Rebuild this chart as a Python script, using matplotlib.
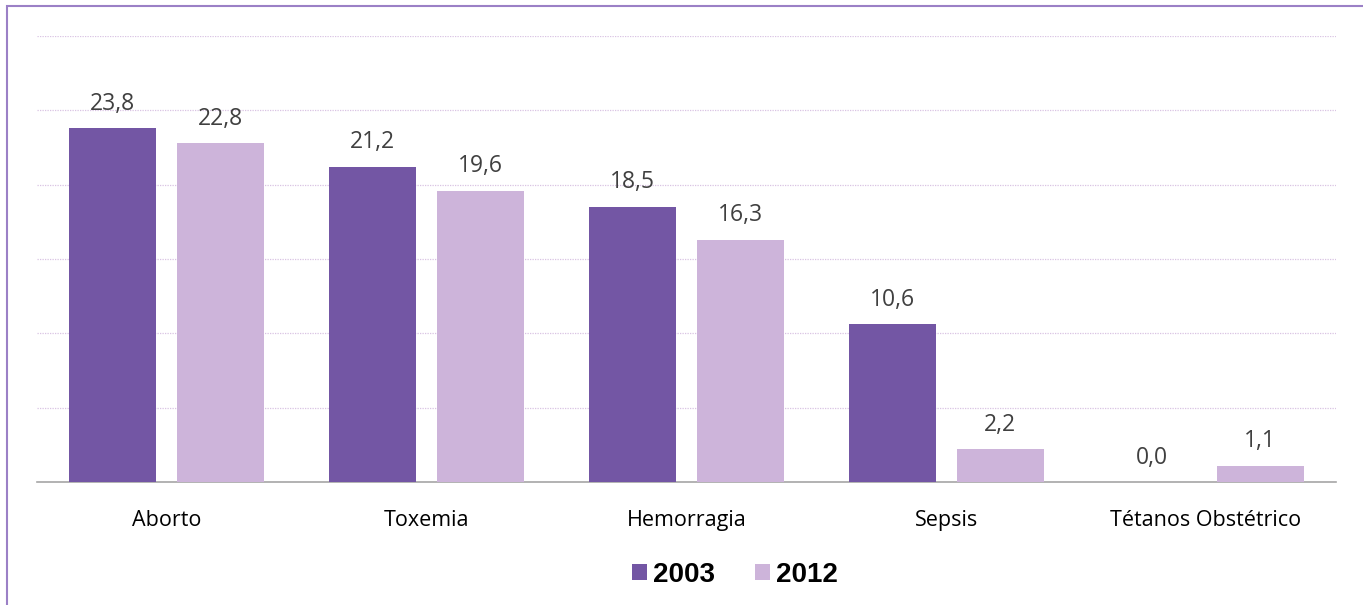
"""Causas de mortalidad materna: barras agrupadas 2003 vs 2012."""
import matplotlib
matplotlib.use("Agg")
import matplotlib.pyplot as plt
import numpy as np
from matplotlib.patches import Rectangle

causas = ["Aborto", "Toxemia", "Hemorragia", "Sepsis", "Tétanos Obstétrico"]
valores_2003 = [23.8, 21.2, 18.5, 10.6, 0.0]
valores_2012 = [22.8, 19.6, 16.3, 2.2, 1.1]
series = ["2003", "2012"]

color_2003 = "#7356a4"
color_2012 = "#cdb4da"
texto = "#404040"

plt.rcParams["font.family"] = ["Open Sans", "DejaVu Sans"]

fig = plt.figure(figsize=(13.63, 6.05), dpi=100)
ax = fig.add_axes([0.0271, 0.2033, 0.9530, 0.7372])

x = np.arange(len(causas))
ancho = 0.335
desp = 0.208
b1 = ax.bar(x - desp, valores_2003, ancho, color=color_2003, label=series[0], zorder=3)
b2 = ax.bar(x + desp, valores_2012, ancho, color=color_2012, label=series[1], zorder=3)

for barras in (b1, b2):
    for b in barras:
        h = b.get_height()
        ax.annotate(f"{h:.1f}".replace(".", ","),
                    (b.get_x() + b.get_width() / 2, h),
                    xytext=(0, 9), textcoords="offset points",
                    ha="center", va="bottom", fontsize=16.5, color=texto)

ax.set_xlim(-0.5, len(causas) - 0.5)
ax.set_ylim(0, 30)
ax.set_yticks(np.arange(0, 31, 5))
ax.yaxis.grid(True, color="#d9c3e3", linestyle=(0, (1, 1)), linewidth=0.9, zorder=0)
ax.tick_params(axis="y", left=False, labelleft=False)
ax.tick_params(axis="x", bottom=False, labelsize=15.5, colors="black", pad=17)
ax.set_xticks(x)
ax.set_xticklabels(causas)
for lado in ("top", "right", "left"):
    ax.spines[lado].set_visible(False)
ax.spines["bottom"].set_color("#a6a6a6")
ax.spines["bottom"].set_linewidth(1.2)

leg = fig.legend(handles=[b1, b2], loc="center", bbox_to_anchor=(735 / 1363, 0.05),
                 ncol=2, frameon=False, handlelength=0.52, handleheight=0.52,
                 handletextpad=0.22, columnspacing=1.45,
                 prop={"family": "Liberation Sans", "weight": "bold", "size": 20})

# marco del grafico (solo visible arriba y a la izquierda)
fig.patches.append(Rectangle((7 / 1363, -0.1), 1.2, (605 - 6) / 605 + 0.1,
                             transform=fig.transFigure, fill=False,
                             edgecolor="#9b80c6", linewidth=1.5))

fig.savefig("out.png", dpi=100)
